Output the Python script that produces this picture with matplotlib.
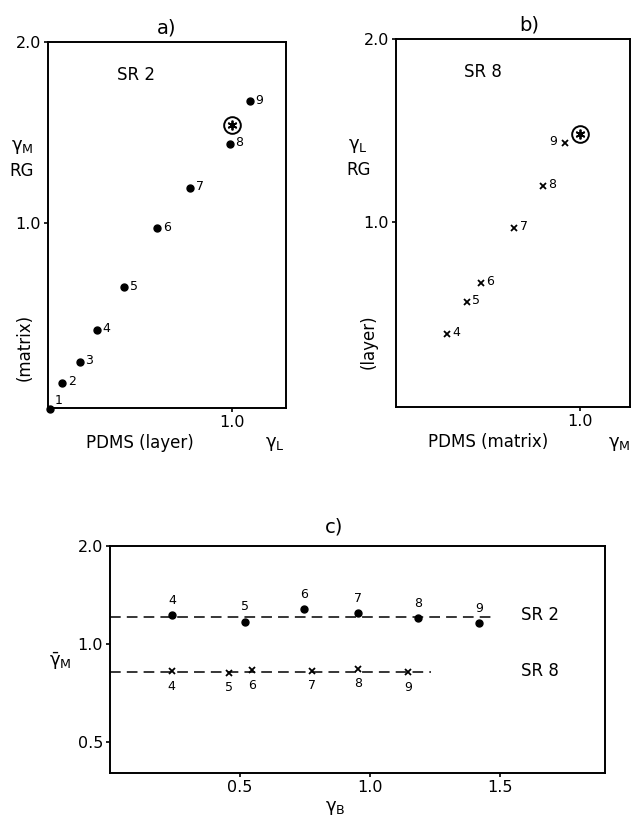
import matplotlib.pyplot as plt
import matplotlib.ticker as mticker

plt.rcParams['font.family'] = ['DejaVu Sans']

# panel a: SR 2, RG matrix vs PDMS layer
a_labels = ['1', '2', '3', '4', '5', '6', '7', '8', '9']
a_x = [0.497, 0.522, 0.558, 0.596, 0.661, 0.750, 0.851, 0.991, 1.070]
a_y = [0.492, 0.543, 0.589, 0.665, 0.782, 0.980, 1.146, 1.355, 1.593]
a_star = (1.0, 1.455)

# panel b: SR 8, RG layer vs PDMS matrix
b_labels = ['4', '5', '6', '7', '8', '9']
b_x = [0.603, 0.650, 0.685, 0.779, 0.868, 0.947]
b_y = [0.654, 0.739, 0.794, 0.976, 1.146, 1.351]
b_star = (1.0, 1.397)

# panel c: mean gamma_M vs gamma_B
c_labels = ['4', '5', '6', '7', '8', '9']
c_sr2_x = [0.240, 0.519, 0.748, 0.957, 1.188, 1.422]
c_sr2_y = [1.224, 1.171, 1.281, 1.245, 1.202, 1.157]
c_sr8_x = [0.238, 0.460, 0.547, 0.777, 0.957, 1.148]
c_sr8_y = [0.824, 0.815, 0.830, 0.826, 0.838, 0.818]
sr2_mean, sr2_span = 1.207, (0.0, 1.48)
sr8_mean, sr8_span = 0.820, (0.0, 1.235)

fig = plt.figure(figsize=(6.32, 8.19), dpi=100)

def style(ax):
    for s in ax.spines.values():
        s.set_linewidth(1.4)
    ax.xaxis.set_minor_locator(mticker.NullLocator())
    ax.yaxis.set_minor_locator(mticker.NullLocator())
    ax.xaxis.set_major_formatter(mticker.FormatStrFormatter('%.1f'))
    ax.yaxis.set_major_formatter(mticker.FormatStrFormatter('%.1f'))
    ax.tick_params(direction='out', length=3, width=1.2, labelsize=11.5, pad=2)

def star(ax, pt):
    ax.plot(*pt, 'o', mfc='white', mec='black', ms=12, mew=1.4, zorder=4)
    ax.plot(*pt, marker=(6, 2, 0), color='black', ms=7, mew=1.3, zorder=5)

def gam(sub, bar=False):
    g = r'\bar{\gamma}' if bar else r'\gamma'
    return r'$\mathregular{' + g + '_{' + sub + '}}$'

# ---- a)
ax = fig.add_axes([0.076, 0.5018, 0.3766, 0.447])
ax.set_xscale('log'); ax.set_yscale('log')
ax.set_xlim(0.494, 1.228); ax.set_ylim(0.493, 2.0)
ax.set_xticks([1.0]); ax.set_yticks([1.0, 2.0])
style(ax)
ax.plot(a_x, a_y, 'o', color='black', ms=5, clip_on=False)
for lb, x, y in zip(a_labels, a_x, a_y):
    dy = 6 if lb == '1' else 1
    ax.annotate(lb, (x, y), xytext=(4, dy), textcoords='offset points', fontsize=9, va='center',
                annotation_clip=False)
star(ax, a_star)
ax.text(0.37, 0.91, 'SR 2', transform=ax.transAxes, fontsize=12, ha='center', va='center')
ax.set_title('a)', fontsize=14, pad=6)
fig.text(22/632, 1-147/819, gam('M'), fontsize=13, ha='center', va='center')
fig.text(22/632, 1-171/819, 'RG', fontsize=12, ha='center', va='center')
fig.text(25/632, 1-347/819, '(matrix)', fontsize=12, ha='center', va='center', rotation=90)
fig.text(140/632, 1-443/819, 'PDMS (layer)', fontsize=12, ha='center', va='center')
fig.text(275/632, 1-444/819, gam('L'), fontsize=13, ha='center', va='center')

# ---- b)
ax = fig.add_axes([0.6266, 0.503, 0.3704, 0.449])
ax.set_xscale('log'); ax.set_yscale('log')
ax.set_xlim(0.496, 1.213); ax.set_ylim(0.495, 2.0)
ax.set_xticks([1.0]); ax.set_yticks([1.0, 2.0])
style(ax)
ax.plot(b_x, b_y, 'x', color='black', ms=5, mew=1.3)
for lb, x, y in zip(b_labels, b_x, b_y):
    if lb == '9':
        ax.annotate(lb, (x, y), xytext=(-6, 1), textcoords='offset points', fontsize=9, va='center', ha='right')
    else:
        ax.annotate(lb, (x, y), xytext=(4, 1), textcoords='offset points', fontsize=9, va='center')
star(ax, b_star)
ax.text(0.37, 0.91, 'SR 8', transform=ax.transAxes, fontsize=12, ha='center', va='center')
ax.set_title('b)', fontsize=14, pad=6, x=0.57)
fig.text(358/632, 1-146/819, gam('L'), fontsize=13, ha='center', va='center')
fig.text(359/632, 1-170/819, 'RG', fontsize=12, ha='center', va='center')
fig.text(369/632, 1-342/819, '(layer)', fontsize=12, ha='center', va='center', rotation=90)
fig.text(488/632, 1-442/819, 'PDMS (matrix)', fontsize=12, ha='center', va='center')
fig.text(619/632, 1-444/819, gam('M'), fontsize=13, ha='center', va='center')

# ---- c)
ax = fig.add_axes([0.174, 0.0562, 0.784, 0.2771])
ax.set_yscale('log')
ax.set_xlim(0.0, 1.908); ax.set_ylim(0.402, 2.0)
ax.set_xticks([0.5, 1.0, 1.5]); ax.set_yticks([0.5, 1.0, 2.0])
style(ax)
ax.plot(sr2_span, [sr2_mean, sr2_mean], color='black', lw=1.1, dashes=(7, 4))
ax.plot(sr8_span, [sr8_mean, sr8_mean], color='black', lw=1.1, dashes=(7, 4))
ax.plot(c_sr2_x, c_sr2_y, 'o', color='black', ms=5)
ax.plot(c_sr8_x, c_sr8_y, 'x', color='black', ms=4.5, mew=1.3)
for lb, x, y in zip(c_labels, c_sr2_x, c_sr2_y):
    ax.annotate(lb, (x, y), xytext=(0, 6), textcoords='offset points', fontsize=9, ha='center', va='bottom')
for lb, x, y in zip(c_labels, c_sr8_x, c_sr8_y):
    ax.annotate(lb, (x, y), xytext=(0, -6), textcoords='offset points', fontsize=9, ha='center', va='top')
ax.text(540/632, 1-615/819, 'SR 2', transform=fig.transFigure, fontsize=12, ha='center', va='center')
ax.text(540/632, 1-671/819, 'SR 8', transform=fig.transFigure, fontsize=12, ha='center', va='center')
fig.text(334/632, 1-527/819, 'c)', fontsize=14, ha='center', va='center')
fig.text(60/632, 1-661/819, gam('M', bar=True), fontsize=13, ha='center', va='center')
fig.text(335/632, 1-808/819, gam('B'), fontsize=13, ha='center', va='center')

fig.savefig('out.png', dpi=100)
